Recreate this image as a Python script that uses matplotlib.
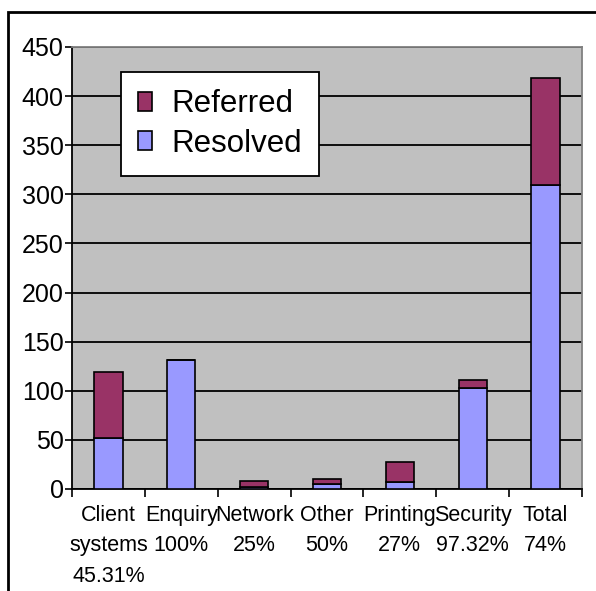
import matplotlib
matplotlib.use("Agg")
import matplotlib.pyplot as plt
from matplotlib.patches import Rectangle
import numpy as np

plt.rcParams['font.family'] = ['Liberation Sans', 'DejaVu Sans']

categories = ["Client\nsystems\n45.31%", "Enquiry\n100%", "Network\n25%", "Other\n50%",
              "Printing\n27%", "Security\n97.32%", "Total\n74%"]
resolved = [52, 131, 2, 5, 7, 103, 309]
referred = [67, 0, 6, 5, 20, 8, 109]
yticks = [0, 50, 100, 150, 200, 250, 300, 350, 400, 450]

fig = plt.figure(figsize=(5.96, 5.91), dpi=100)
ax = fig.add_axes([72/596, 1-489/591, (582-72)/596, (489-47)/591])
ax.set_facecolor('#C0C0C0')

x = np.arange(len(categories))
w = 0.39
ax.bar(x, resolved, w, color='#9999FF', edgecolor='black', linewidth=1.2, label='Resolved', zorder=3)
ax.bar(x, referred, w, bottom=resolved, color='#993366', edgecolor='black', linewidth=1.2,
       label='Referred', zorder=3)

ax.set_xlim(-0.5, len(categories)-0.5)
ax.set_ylim(0, 450)
ax.set_yticks(yticks)
ax.set_yticklabels([str(v) for v in yticks], fontsize=18)
ax.yaxis.grid(True, color='black', linewidth=1.3, zorder=1)
ax.set_axisbelow(True)
ax.tick_params(axis='y', direction='out', length=5, width=1.2, pad=1)

ax.set_xticks(np.arange(-0.5, len(categories), 1.0))
ax.set_xticklabels([])
ax.tick_params(axis='x', direction='out', length=6, width=1.2)
for xi, lab in zip(x, categories):
    ax.text(xi, -16, lab, ha='center', va='top', fontsize=15.5, linespacing=1.6,
            transform=ax.transData, clip_on=False)

ax.spines['left'].set_color('black')
ax.spines['left'].set_linewidth(1.3)
ax.spines['bottom'].set_color('black')
ax.spines['bottom'].set_linewidth(1.3)
for s in ('top', 'right'):
    ax.spines[s].set_color('#808080')
    ax.spines[s].set_linewidth(1.3)

h, l = ax.get_legend_handles_labels()
leg = fig.legend(h[::-1], l[::-1], loc='upper left', bbox_to_anchor=(121/596, 1-72/591),
                 fontsize=22.5, frameon=True, fancybox=False, edgecolor='black', framealpha=1,
                 handlelength=0.45, handleheight=0.55, handletextpad=0.6, borderpad=0.55,
                 labelspacing=0.3, borderaxespad=0)
leg.get_frame().set_linewidth(1.3)

fig.patches.append(Rectangle((8/596, -0.1), 1.2, 1-12/591+0.1, transform=fig.transFigure,
                             fill=False, edgecolor='black', linewidth=2))

fig.savefig('out.png', dpi=100)
